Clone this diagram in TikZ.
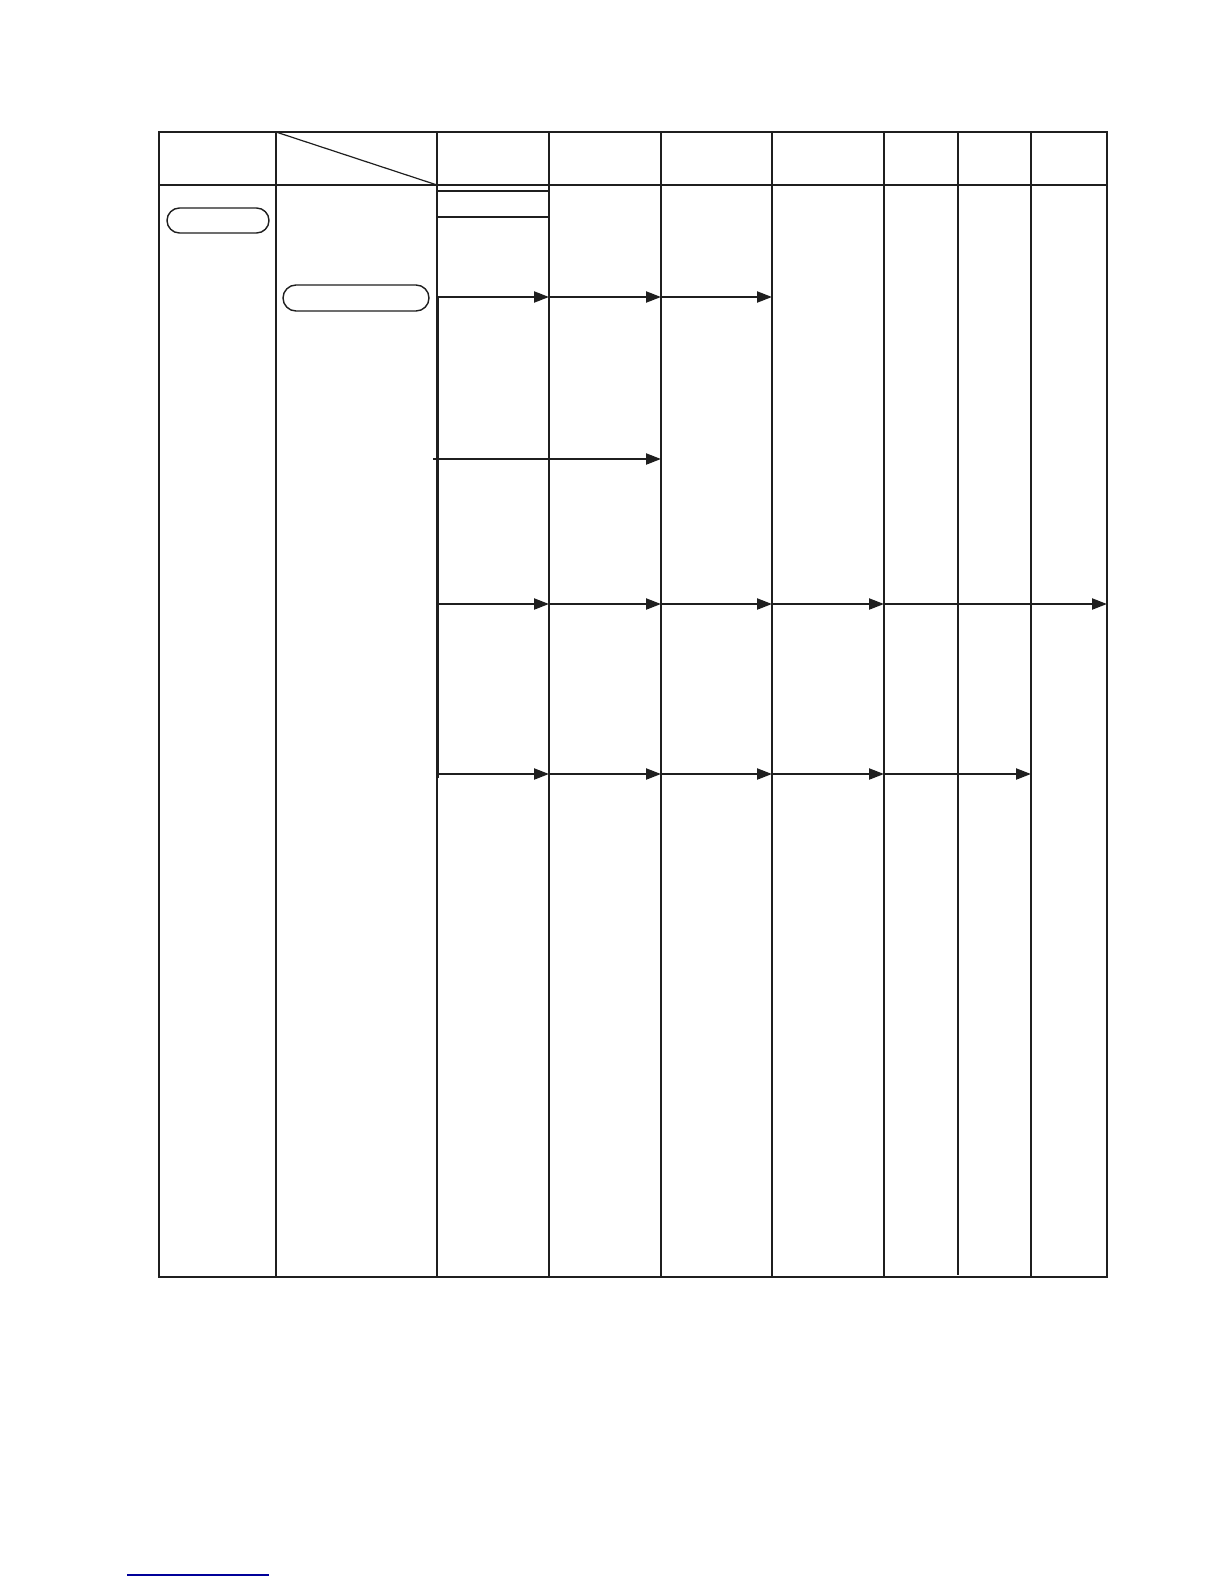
\documentclass[tikz,border=0pt]{standalone}
\usetikzlibrary{arrows.meta,shapes.misc}
\begin{document}
\begin{tikzpicture}[x=1pt,y=-1pt,
  grid/.style={line width=1.2pt, black!88},
  frame/.style={line width=1.5pt, black!88},
  flow/.style={line width=2.2pt, black!88, -{Triangle[length=15pt,width=11pt]}},
  trunk/.style={line width=3pt, black!88},
  pill/.style={draw, black!88, line width=1.4pt, rounded rectangle, inner sep=0pt},
  link/.style={line width=1.3pt, blue!60!black}]
\useasboundingbox (0,0) rectangle (1224,1584);
% table frame
\draw[frame] (159,132) rectangle (1107,1277);
\draw[grid] (159,185) -- (1107,185);
\foreach \x in {276,437,549,661,772,884,1031}
  \draw[grid] (\x,132) -- (\x,1277);
\draw[grid] (958,132) -- (958,1275);
% diagonal header cell
\draw[grid] (276,132) -- (437,185);
% sub-rows in column 3
\draw[grid] (437,191) -- (549,191);
\draw[grid] (437,217) -- (549,217);
% rounded boxes
\node[pill, minimum width=102pt, minimum height=25pt] (start) at (218,220.5) {};
\node[pill, minimum width=146pt, minimum height=26pt] (proc) at (356,298) {};
% coordinates
\foreach \r/\y in {a/297,b/459,c/604,d/774}
  \foreach \c/\x in {3/437,4/549,5/661,6/772,7/884,9/1031,10/1107}
    \coordinate (\r\c) at (\x,\y);
\coordinate (b0) at (433,459);
\coordinate (trunkend) at (437,778);
% trunk
\draw[trunk] (a3) -- (trunkend);
% row a
\draw[flow] (a3) -- (a4);
\draw[flow] (a4) -- (a5);
\draw[flow] (a5) -- (a6);
% row b
\draw[flow] (b0) -- (b5);
% row c
\draw[flow] (c3) -- (c4);
\draw[flow] (c4) -- (c5);
\draw[flow] (c5) -- (c6);
\draw[flow] (c6) -- (c7);
\draw[flow] (c7) -- (c10);
% row d
\draw[flow] (d3) -- (d4);
\draw[flow] (d4) -- (d5);
\draw[flow] (d5) -- (d6);
\draw[flow] (d6) -- (d7);
\draw[flow] (d7) -- (d9);
% blue line at bottom
\coordinate (l1) at (127,1575);
\coordinate (l2) at (269,1575);
\draw[link] (l1) -- (l2);
\end{tikzpicture}
\end{document}
